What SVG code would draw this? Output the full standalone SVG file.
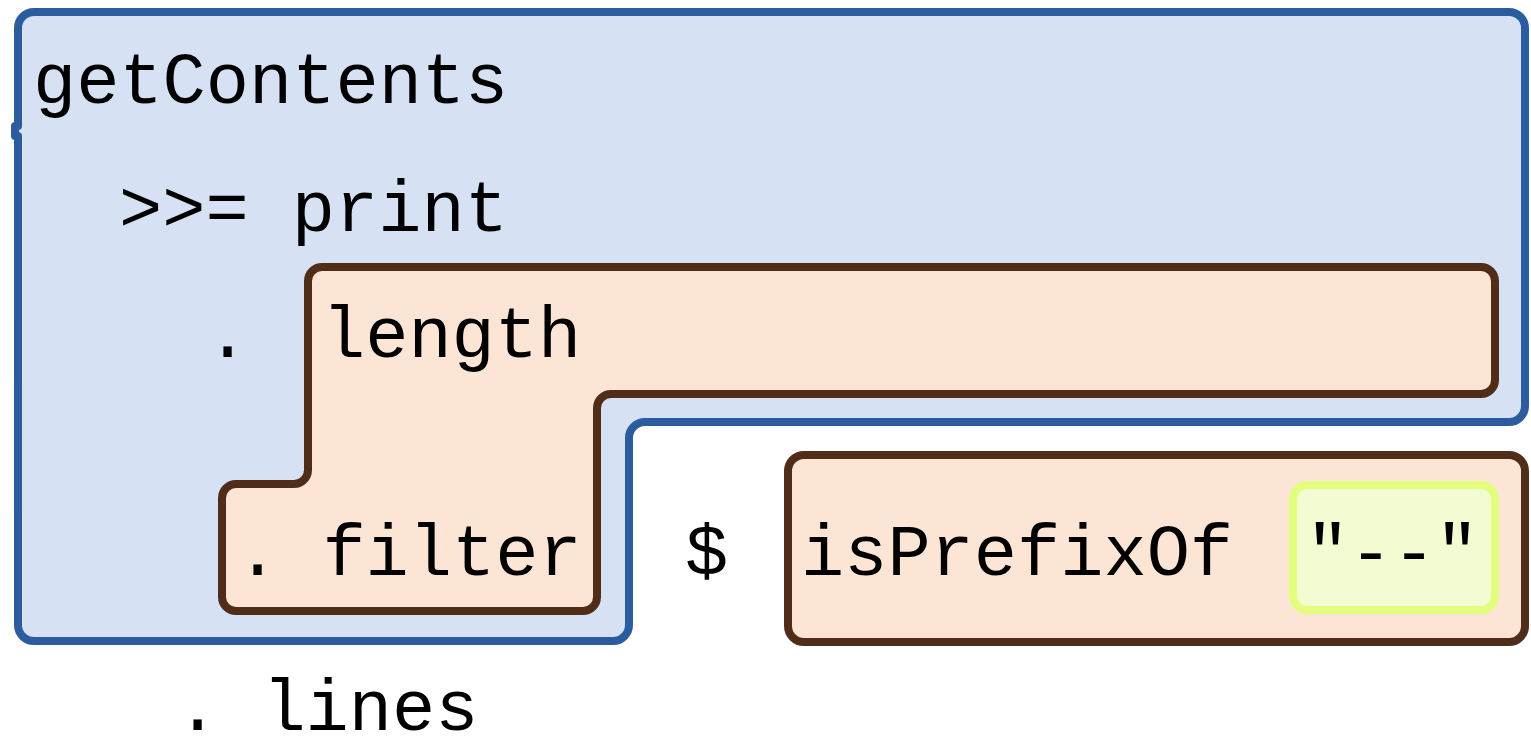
<svg xmlns="http://www.w3.org/2000/svg" width="1531" height="737" viewBox="0 0 1531 737">
<style>
.t{font-family:"Liberation Mono","DejaVu Sans Mono",monospace;font-size:72px;fill:#000;}
.blue{fill:#d6e1f3;stroke:#2c5ca0;stroke-width:8;stroke-linejoin:round;}
.brown{fill:#fde5d5;stroke:#502d19;stroke-width:8;stroke-linejoin:round;}
.lime{fill:#f2fbd2;stroke:#e3fe7e;stroke-width:8;}
</style>
<rect width="1531" height="737" fill="#fff"/>
<g id="outer-block">
<path class="blue" d="M34,12 H1509 A16,16 0 0 1 1525,28 V406 A16,16 0 0 1 1509,422 H645 A16,16 0 0 0 629,438 V625 A16,16 0 0 1 613,641 H34 A16,16 0 0 1 18,625 V136 H15 V126 H18 V28 A16,16 0 0 1 34,12 Z"/>
<text class="t" x="33" y="103">getContents</text>
<text class="t" x="119" y="231">&gt;&gt;= print</text>
<text class="t" x="206" y="357">.</text>
</g>
<g id="length-filter">
<path class="brown" d="M322,267 H1481 A14,14 0 0 1 1495,281 V380 A14,14 0 0 1 1481,394 H611 A14,14 0 0 0 597,408 V597 A14,14 0 0 1 583,611 H236 A14,14 0 0 1 222,597 V498 A14,14 0 0 1 236,484 H294 A14,14 0 0 0 308,470 V281 A14,14 0 0 1 322,267 Z"/>
<text class="t" x="322" y="357">length</text>
<text class="t" x="236" y="575">. filter</text>
</g>
<g id="dollar">
<text class="t" x="685" y="575">$</text>
</g>
<g id="isPrefixOf">
<rect class="brown" x="788" y="455" width="737" height="187" rx="16"/>
<text class="t" x="801" y="575">isPrefixOf</text>
</g>
<g id="literal">
<rect class="lime" x="1293" y="485" width="202" height="125" rx="14"/>
<text class="t" x="1306" y="575">"--"</text>
</g>
<g id="lines">
<text class="t" x="176" y="730">. lines</text>
</g>
<g id="connectors"/>
</svg>
